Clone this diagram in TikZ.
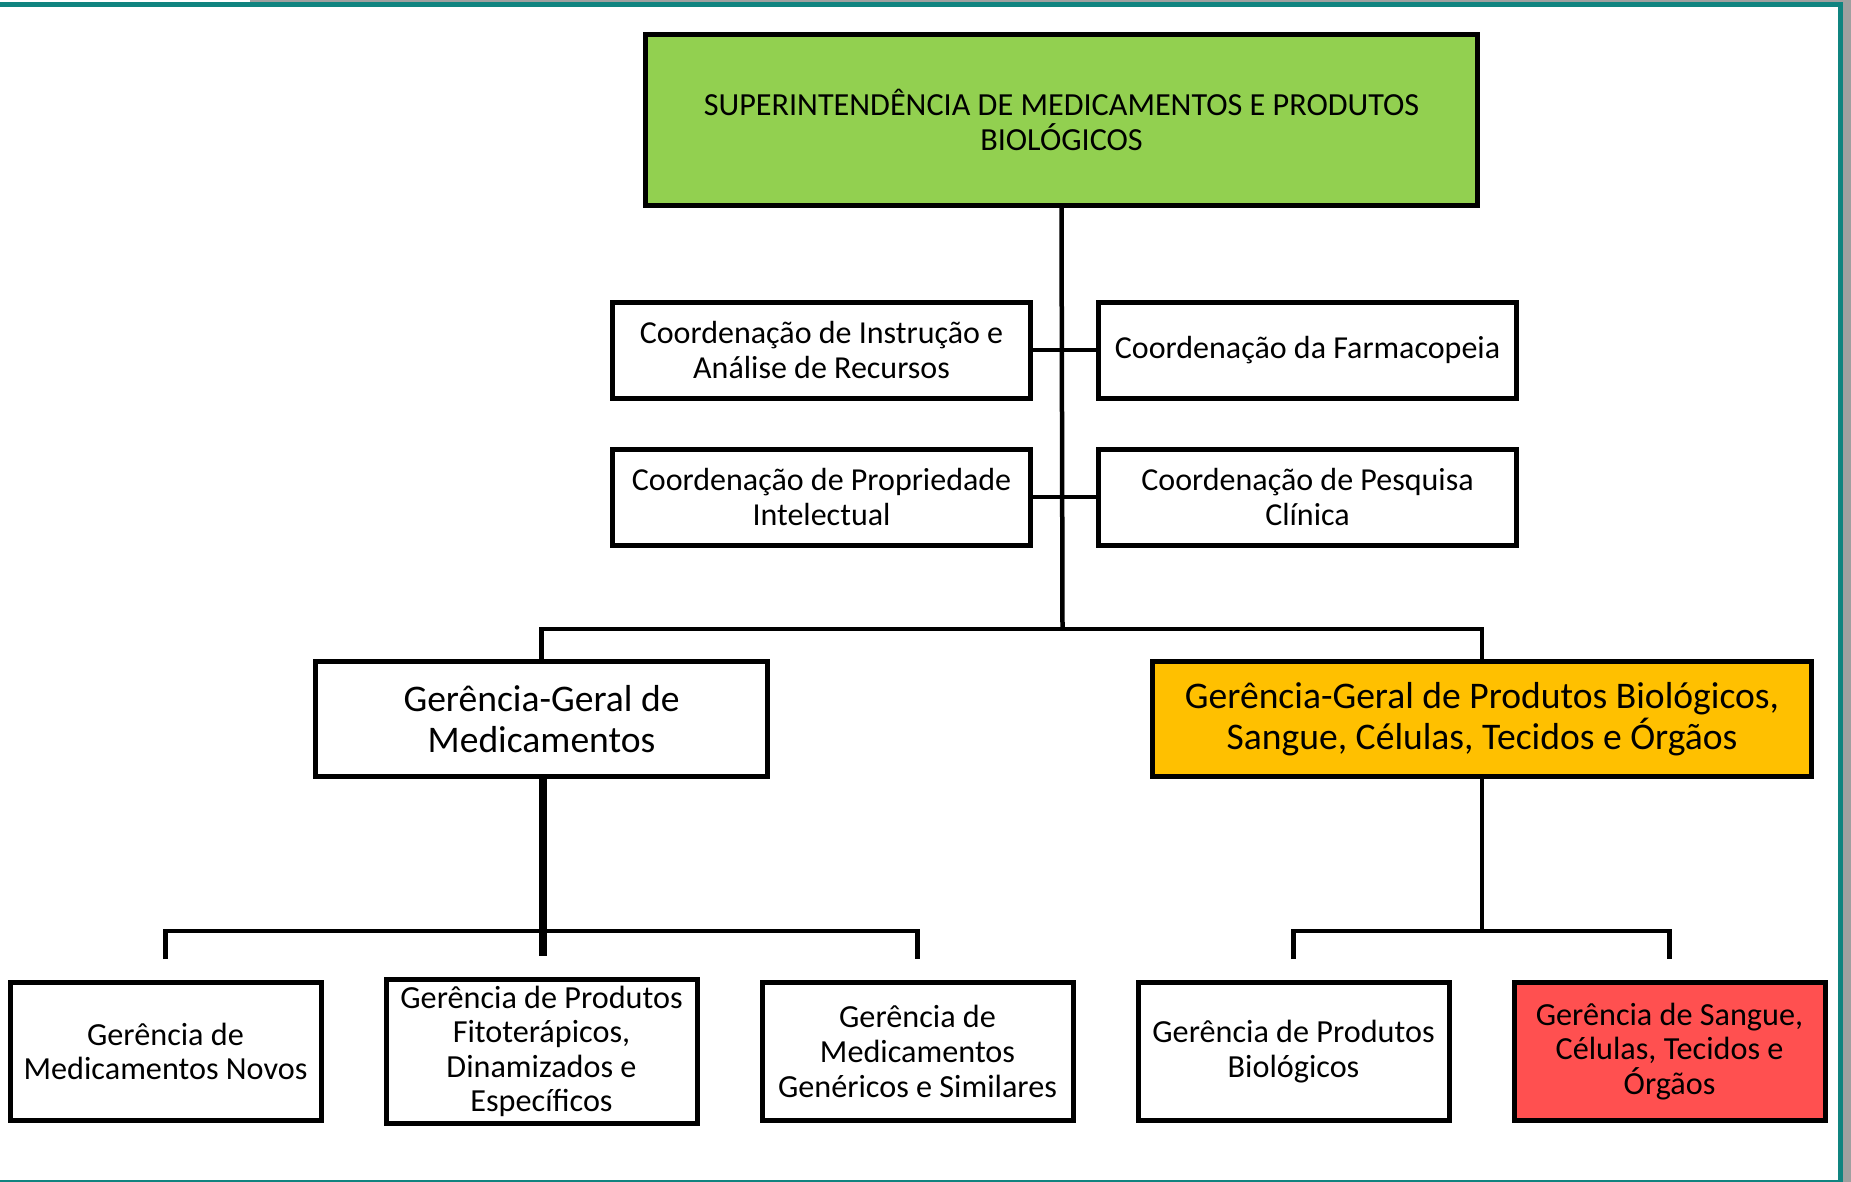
\documentclass[tikz,border=0pt]{standalone}
\usepackage{fontspec}
\setmainfont{Carlito}
\usepackage{tikz}
\usetikzlibrary{positioning}
\definecolor{supgreen}{RGB}{146, 208, 80}
\definecolor{ggorange}{RGB}{255, 192, 0}
\definecolor{gsred}{RGB}{255, 80, 80}
\definecolor{frameteal}{RGB}{16, 132, 128}
\definecolor{framegray}{RGB}{160, 160, 160}
\tikzstyle{boss} = [rectangle, draw=black, line width=2.5pt, fill=supgreen, text=black, align=center, font=\fontsize{16.1}{17.2}\selectfont, minimum width=416pt, minimum height=85.5pt]
\tikzstyle{coordbox} = [rectangle, draw=black, line width=2.5pt, fill=white, text=black, align=center, font=\fontsize{16}{17.6}\selectfont, minimum width=209pt, minimum height=48pt]
\tikzstyle{genbox} = [rectangle, draw=black, line width=2.5pt, fill=white, text=black, align=center, font=\fontsize{18.8}{20.7}\selectfont, minimum height=57.5pt]
\tikzstyle{unitbox} = [rectangle, draw=black, line width=2.5pt, fill=white, text=black, align=center, font=\fontsize{16.1}{17.3}\selectfont, minimum width=155.5pt, minimum height=69pt]
\tikzstyle{link} = [draw, line width=2.25pt]
\tikzstyle{trunk} = [draw, line width=4pt]

\begin{document}
\begin{tikzpicture}[x=0.5pt, y=-0.5pt]

% frame ==================================
\fill[white] (0,0) rectangle (1851,1182);
\useasboundingbox (0,0) rectangle (1851,1182);
\fill[framegray] (1843,0) rectangle (1851,1182);
\fill[framegray] (250,0) rectangle (1851,2);
\fill[frameteal] (0,2) rectangle (1843,7.5);
\fill[frameteal] (1838,2) rectangle (1843,1182);
\fill[frameteal] (0,1179.5) rectangle (1843,1182);

% superintendence
\node[boss] (sup) at (1061.5,120) {SUPERINTENDÊNCIA DE MEDICAMENTOS E PRODUTOS\\BIOLÓGICOS};

% coordinations
\node[coordbox] (cia) at (821.5,350) {Coordenação de Instrução e\\Análise de Recursos};
\node[coordbox, right=31.5pt of cia] (cfa) {Coordenação da Farmacopeia};
\node[coordbox, below=23pt of cia] (cpi) {Coordenação de Propriedade\\Intelectual};
\node[coordbox, right=31.5pt of cpi] (cpc) {Coordenação de Pesquisa\\Clínica};

% general managements
\node[genbox, minimum width=226pt] (ggm) at (541.5,719) {Gerência-Geral de\\Medicamentos};
\node[genbox, minimum width=329.5pt, fill=ggorange, right=190pt of ggm] (ggb) {Gerência-Geral de Produtos Biológicos,\\Sangue, Células, Tecidos e Órgãos};

% managements
\node[unitbox] (gmn) at (165.5,1051.5) {Gerência de\\Medicamentos Novos};
\node[unitbox, right=30pt of gmn] (gfd) {Gerência de Produtos\\Fitoterápicos,\\Dinamizados e\\Específicos};
\node[unitbox, right=30pt of gfd] (ggs) {Gerência de\\Medicamentos\\Genéricos e Similares};
\node[unitbox, right=30pt of ggs] (gpb) {Gerência de Produtos\\Biológicos};
\node[unitbox, fill=gsred, right=30pt of gpb] (gsc) {Gerência de Sangue,\\Células, Tecidos e\\Órgãos};

%junctions
\coordinate (topbar) at (1062.5,629);
\coordinate (lbar) at (543,931);
\coordinate (rbar) at (1482,931);
\coordinate (gmn-in) at ([yshift=10.5pt]gmn.north);
\coordinate (gfd-in) at ([yshift=10.5pt]gfd.north);
\coordinate (ggs-in) at ([yshift=10.5pt]ggs.north);
\coordinate (gpb-in) at ([yshift=10.5pt]gpb.north);
\coordinate (gsc-in) at ([yshift=10.5pt]gsc.north);

%edges superintendence to general managements
\path[link] (sup.south) -- (topbar);
\path[link] (ggm.north) |- (topbar) -| (ggb.north);

\path[link] (cia.east) -- (cfa.west);
\path[link] (cpi.east) -- (cpc.west);

% edges general managements to managements
\path[trunk] (ggm.south -| lbar) -- (lbar |- gfd-in);
\path[link] (gmn-in) |- (lbar) -| (ggs-in);

\path[link] (ggb.south) -- (rbar);
\path[link] (gpb-in) |- (rbar) -| (gsc-in);

\end{tikzpicture}
\end{document}
